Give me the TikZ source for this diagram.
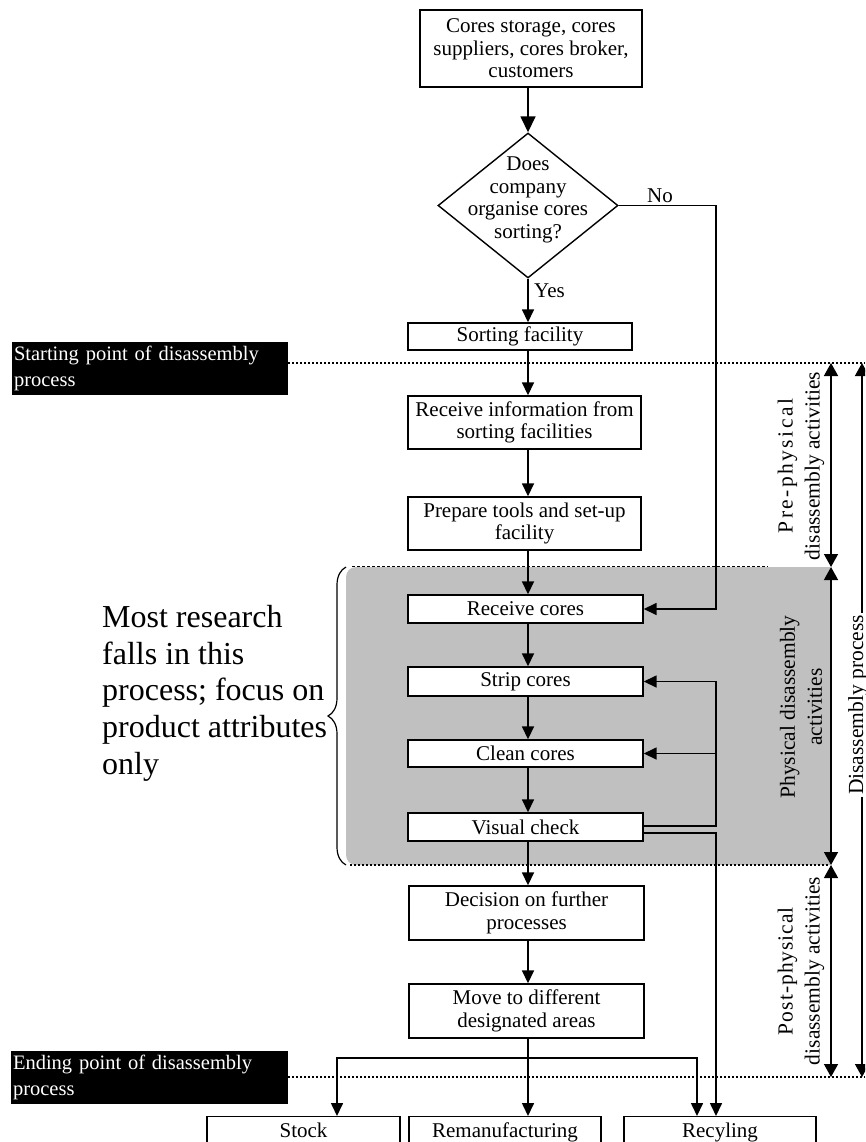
\documentclass[tikz,border=0pt]{standalone}
\usepackage{fontspec}
\setmainfont{Liberation Serif}
\usetikzlibrary{arrows.meta,shapes.geometric,decorations.pathreplacing}
\definecolor{panelgrey}{RGB}{192,192,192}

% spread the letters of a single word evenly over a given width
\makeatletter
\newcommand\spreadword[2]{\hbox to #1{\hskip 0pt plus -1fil\relax\sprd@loop#2\@nil}}
\def\sprd@loop#1{\ifx#1\@nil\else\hfil#1\expandafter\sprd@loop\fi}
\makeatother

\begin{document}
\begin{tikzpicture}[x=1pt,y=-1pt,
  txt/.style={font=\fontsize{21}{22.5}\selectfont},
  box/.style={draw, line width=1.4pt, fill=white, align=center, inner sep=0pt, txt},
  flow/.style={line width=1.6pt, -{Triangle[length=13pt,width=12pt]}},
  bigflow/.style={line width=1.6pt, -{Triangle[length=16pt,width=15pt]}},
  span/.style={line width=1.4pt, {Triangle[length=13pt,width=14pt]}-{Triangle[length=13pt,width=14pt]}},
  bound/.style={line width=2pt, dash pattern=on 2pt off 2pt},
  marker/.style={fill=black, text=white, align=left, inner sep=0pt, font=\fontsize{20.5}{26}\selectfont},
  sidelabel/.style={rotate=90, align=center, inner sep=0pt, font=\fontsize{21.5}{27}\selectfont}
]
\useasboundingbox (0,0) rectangle (865,1142);
\clip (0,0) rectangle (865,1142);

% grey panel of the physical disassembly stage
\fill[panelgrey] (380,567) rectangle (830,865);
\fill[panelgrey, rounded corners=10pt] (346,567) rectangle (400,865);
\draw[line width=1.2pt, decorate, decoration={brace, amplitude=18pt}] (346,865) -- (346,567);
\draw[line width=0.8pt, dash pattern=on 3pt off 2pt] (352,566.5) -- (768,566.5);
\draw[bound] (350,865) -- (829,865);

% start and end markers
\node[marker, minimum width=276pt, minimum height=53pt, text width=272pt] (startmark) at (150,368.5) {Starting point of disassembly\\process};
\node[marker, minimum width=277pt, minimum height=53pt, text width=273pt] (endmark) at (149.5,1077.5) {Ending point of disassembly\\process};
\coordinate (startR) at (865,363);
\coordinate (endR) at (865,1077);
\draw[bound] (startR -| startmark.east) -- (startR);
\draw[bound] (endR -| endmark.east) -- (endR);

% side note
\node[anchor=north west, align=left, inner sep=0pt, font=\fontsize{32}{36.7}\selectfont] (note) at (102,605)
  {Most research\\falls in this\\process; focus on\\product attributes\\only};

% flow nodes
\node[box, minimum width=222pt, minimum height=77pt] (src) at (531,48.5) {Cores storage, cores\\suppliers, cores broker,\\customers};
\node[diamond, draw, line width=1.4pt, fill=white, minimum width=180pt, minimum height=145pt, inner sep=0pt] (dia) at (528,205.5) {};
\node[txt, align=center, inner sep=0pt] (diatext) at (528,200) {Does\\company\\organise cores\\sorting?};
\node[box, minimum width=224pt, minimum height=27pt] (sort) at (520,336.5) {Sorting facility};
\node[box, minimum width=233pt, minimum height=53pt] (info) at (524.5,422.5) {Receive information from\\sorting facilities};
\node[box, minimum width=233pt, minimum height=53pt] (prep) at (524.5,523.5) {Prepare tools and set-up\\facility};
\node[box, minimum width=235pt, minimum height=28pt] (recv) at (525.5,609) {Receive cores};
\node[box, minimum width=235pt, minimum height=29pt] (strip) at (525.5,681.5) {Strip cores};
\node[box, minimum width=235pt, minimum height=27pt] (clean) at (525.5,753.5) {Clean cores};
\node[box, minimum width=235pt, minimum height=28pt] (vis) at (525.5,827) {Visual check};
\node[box, minimum width=235pt, minimum height=54pt] (dec) at (526.5,913) {Decision on further\\processes};
\node[box, minimum width=235pt, minimum height=54pt] (move) at (526.5,1011) {Move to different\\designated areas};
\node[box, anchor=north, minimum width=193pt, text height=21pt, text depth=40pt] (stock) at (303.5,1116) {Stock};
\node[box, anchor=north, minimum width=192pt, text height=21pt, text depth=40pt] (reman) at (505,1116) {Remanufacturing};
\node[box, anchor=north, minimum width=192pt, text height=21pt, text depth=40pt] (recyc) at (720,1116) {Recyling};

\node[txt, anchor=base west, inner sep=0pt] (nolabel) at (647,202) {No};
\node[txt, anchor=base west, inner sep=0pt] (yeslabel) at (534,297) {Yes};

% connectors
\coordinate (spine) at (528,0);
\coordinate (loopx) at (716,0);
\draw[bigflow] (spine |- src.south) -- (dia.north);
\draw[flow] (dia.south) -- (spine |- sort.north);
\draw[flow] (spine |- sort.south) -- (spine |- info.north);
\draw[flow] (spine |- info.south) -- (spine |- prep.north);
\draw[flow] (spine |- prep.south) -- (spine |- recv.north);
\draw[flow] (spine |- recv.south) -- (spine |- strip.north);
\draw[flow] (spine |- strip.south) -- (spine |- clean.north);
\draw[flow] (spine |- clean.south) -- (spine |- vis.north);
\draw[flow] (spine |- vis.south) -- (spine |- dec.north);
\draw[flow] (spine |- dec.south) -- (spine |- move.north);
\draw[flow] (spine |- move.south) -- (spine |- reman.north);

\draw[flow] (dia.east) -- (dia.east -| loopx) -- (loopx |- recv.east) -- (recv.east);
\draw[flow] ([yshift=1pt]vis.east) -| (loopx |- strip.east) -- (strip.east);
\draw[flow] (loopx |- clean.east) -- (clean.east);
\draw[flow] ([yshift=-6pt]vis.east) -| (loopx |- recyc.north);

\coordinate (splitL) at (337,1058);
\coordinate (splitR) at (697,1058);
\draw[flow] (spine |- splitL) -- (splitL) -- (splitL |- stock.north);
\draw[flow] (spine |- splitR) -- (splitR) -- (splitR |- recyc.north);

% stage spans on the right
\coordinate (p0) at (831,363);
\coordinate (p1) at (831,567);
\coordinate (p2) at (831,865);
\coordinate (p3) at (831,1077);
\coordinate (q0) at (862,363);
\coordinate (q1) at (862,1077);
\draw[span] (p0) -- (p1);
\draw[span] (p1) -- (p2);
\draw[span] (p2) -- (p3);
\draw[span] (q0) -- (q1);

\node[sidelabel] (prelabel) at (801,466) {\spreadword{134pt}{Pre-physical}\\disassembly activities};
\node[sidelabel] (physlabel) at (801,707) {Physical disassembly\\activities};
\node[sidelabel] (postlabel) at (801,971) {\spreadword{128pt}{Post-physical}\\disassembly activities};
\node[sidelabel, fill=white, inner sep=2pt, anchor=base] (dplabel) at (863,705) {Disassembly process};
\end{tikzpicture}
\end{document}
